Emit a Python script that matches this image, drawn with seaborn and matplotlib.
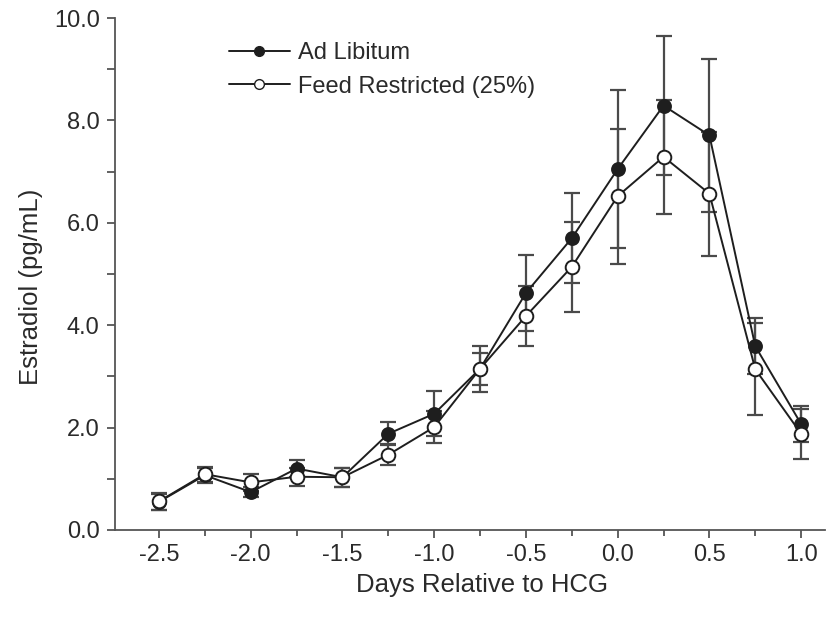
import matplotlib
matplotlib.use("Agg")
import matplotlib.pyplot as plt
import seaborn as sns
import pandas as pd
import numpy as np
from matplotlib.ticker import MultipleLocator
from matplotlib.lines import Line2D

days = [-2.5, -2.25, -2.0, -1.75, -1.5, -1.25, -1.0, -0.75, -0.5, -0.25, 0.0, 0.25, 0.5, 0.75, 1.0]
ad_libitum = [0.55, 1.07, 0.74, 1.20, 1.03, 1.88, 2.27, 3.15, 4.63, 5.70, 7.05, 8.29, 7.71, 3.59, 2.07]
ad_libitum_err = [0.16, 0.15, 0.10, 0.17, 0.19, 0.22, 0.44, 0.45, 0.75, 0.88, 1.54, 1.36, 1.49, 0.55, 0.36]
feed_restricted = [0.56, 1.09, 0.93, 1.04, 1.03, 1.47, 2.01, 3.15, 4.18, 5.14, 6.52, 7.29, 6.57, 3.14, 1.88]
feed_restricted_err = [0.16, 0.15, 0.16, 0.18, 0.19, 0.20, 0.31, 0.31, 0.59, 0.88, 1.32, 1.11, 1.21, 0.90, 0.49]
series_names = ["Ad Libitum", "Feed Restricted (25%)"]
x_ticks = [-2.5, -2.0, -1.5, -1.0, -0.5, 0.0, 0.5, 1.0]
y_ticks = [0.0, 2.0, 4.0, 6.0, 8.0, 10.0]

sns.set_style("ticks")
plt.rcParams['font.family'] = ['Liberation Sans', 'DejaVu Sans']

fig = plt.figure(figsize=(8.35, 6.23), dpi=100)
ax = fig.add_axes([0.1377, 0.1493, 0.988 - 0.1377, 0.971 - 0.1493])

df = pd.DataFrame({
    "day": days * 2,
    "value": ad_libitum + feed_restricted,
    "group": [series_names[0]] * len(days) + [series_names[1]] * len(days),
})

line_col = "#1e1e1e"
err_col = "#4a4a4a"
text_col = "#2a2a2a"

ax.errorbar(days, ad_libitum, yerr=ad_libitum_err, fmt='none', ecolor=err_col,
            elinewidth=1.6, capsize=5.5, capthick=1.6, zorder=1)
ax.errorbar(days, feed_restricted, yerr=feed_restricted_err, fmt='none', ecolor=err_col,
            elinewidth=1.6, capsize=5.5, capthick=1.6, zorder=1)

sub_a = df[df.group == series_names[0]]
sub_f = df[df.group == series_names[1]]
sns.lineplot(data=sub_a, x="day", y="value", ax=ax, color=line_col, lw=1.4,
             marker='o', markersize=9.5, markerfacecolor=line_col,
             markeredgecolor=line_col, markeredgewidth=1.2, zorder=3, legend=False)
sns.lineplot(data=sub_f, x="day", y="value", ax=ax, color=line_col, lw=1.4,
             marker='o', markersize=9.8, markerfacecolor='white',
             markeredgecolor=line_col, markeredgewidth=1.4, zorder=4, legend=False)

ax.set_xlim(-2.74, 1.13)
ax.set_ylim(0, 10)
ax.xaxis.set_minor_locator(MultipleLocator(0.25))
ax.yaxis.set_minor_locator(MultipleLocator(1.0))
ax.set_xticks(x_ticks)
ax.set_xticklabels([f"{v:.1f}" for v in x_ticks])
ax.set_yticks(y_ticks)
ax.set_yticklabels([f"{v:.1f}" for v in y_ticks])

spine_col = "#555555"
for s in ["top", "right"]:
    ax.spines[s].set_visible(False)
for s in ["left", "bottom"]:
    ax.spines[s].set_color(spine_col)
    ax.spines[s].set_linewidth(1.3)

ax.tick_params(axis='both', which='major', length=6, width=1.3, color=spine_col,
               labelsize=17, labelcolor=text_col, direction='out', pad=5)
ax.tick_params(axis='x', which='major', pad=4)
ax.tick_params(axis='y', which='minor', length=6, width=1.3, color=spine_col, direction='out')
ax.tick_params(axis='x', which='minor', length=4, width=1.3, color=spine_col, direction='out')

ax.set_xlabel("Days Relative to HCG", fontsize=18.5, color=text_col)
ax.set_ylabel("Estradiol (pg/mL)", fontsize=18.5, color=text_col)
ax.xaxis.set_label_coords(0.517, -0.084)
ax.yaxis.set_label_coords(-0.102, 0.475)

handles = [
    Line2D([0], [0], color=line_col, lw=1.4, marker='o', markersize=7,
           markerfacecolor=line_col, markeredgecolor=line_col),
    Line2D([0], [0], color=line_col, lw=1.4, marker='o', markersize=7,
           markerfacecolor='white', markeredgecolor=line_col),
]
ax.legend(handles, series_names, loc='upper left', bbox_to_anchor=(0.13, 0.995),
          frameon=False, fontsize=17, handlelength=2.6, handletextpad=0.35,
          labelspacing=0.5, labelcolor=text_col)

fig.savefig("out.png", dpi=100)
